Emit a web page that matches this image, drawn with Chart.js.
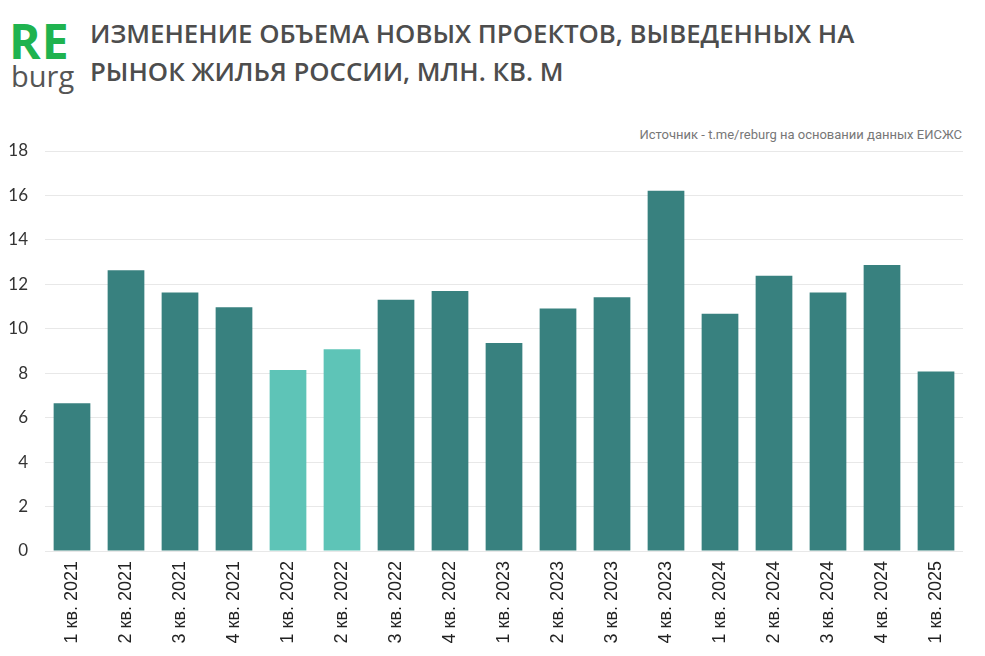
<!DOCTYPE html>
<html lang="ru">
<head>
  <meta charset="UTF-8">
  <title>Изменение объема новых проектов</title>
  <script src="https://cdn.jsdelivr.net/npm/chart.js"></script>
  <style>
    body {
      margin: 0;
      background: #ffffff;
      width: 985px;
      height: 656px;
      overflow: hidden;
      position: relative;
      font-family: 'Open Sans', sans-serif;
    }
    .logo-re {
      position: absolute;
      left: 9px;
      top: 14px;
      font-family: 'Open Sans', sans-serif;
      font-weight: 700;
      font-size: 48px;
      line-height: 54px;
      color: #1fb34f;
      letter-spacing: 1px;
    }
    .logo-burg {
      position: absolute;
      left: 11px;
      top: 58px;
      font-family: 'Open Sans', sans-serif;
      font-size: 29px;
      line-height: 36px;
      color: #555555;
    }
    .title {
      position: absolute;
      left: 90px;
      top: 14px;
      font-family: 'Open Sans', sans-serif;
      font-weight: 600;
      font-size: 25.8px;
      line-height: 38px;
      color: #4d4d4d;
    }
    .source {
      position: absolute;
      right: 23px;
      top: 127px;
      font-family: 'Roboto', sans-serif;
      font-size: 13px;
      color: #777777;
    }
    #wrap {
      position: absolute;
      left: 0;
      top: 0;
      width: 985px;
      height: 656px;
    }
  </style>
</head>
<body>
  <div class="logo-re">RE</div>
  <div class="logo-burg">burg</div>
  <div class="title">ИЗМЕНЕНИЕ ОБЪЕМА НОВЫХ ПРОЕКТОВ, ВЫВЕДЕННЫХ НА<br>РЫНОК ЖИЛЬЯ РОССИИ, МЛН. КВ. М</div>
  <div class="source">Источник - t.me/reburg на основании данных ЕИСЖС</div>
  <div id="wrap"><canvas id="chart"></canvas></div>

  <script>
    const quarters = [
      '1 кв. 2021', '2 кв. 2021', '3 кв. 2021', '4 кв. 2021',
      '1 кв. 2022', '2 кв. 2022', '3 кв. 2022', '4 кв. 2022',
      '1 кв. 2023', '2 кв. 2023', '3 кв. 2023', '4 кв. 2023',
      '1 кв. 2024', '2 кв. 2024', '3 кв. 2024', '4 кв. 2024',
      '1 кв. 2025'
    ];
    const volumes = [
      6.65, 12.63, 11.63, 10.97,
      8.15, 9.08, 11.31, 11.70,
      9.36, 10.91, 11.42, 16.21,
      10.68, 12.39, 11.63, 12.87,
      8.08
    ];
    // quarters shown in the lighter colour
    const highlighted = ['1 кв. 2022', '2 кв. 2022'];
    const yTicks = [0, 2, 4, 6, 8, 10, 12, 14, 16, 18];

    const dark = '#38817f';
    const light = '#5ec4b7';

    new Chart(document.getElementById('chart'), {
      type: 'bar',
      data: {
        labels: quarters,
        datasets: [{
          data: volumes,
          backgroundColor: quarters.map(q => highlighted.includes(q) ? light : dark),
          categoryPercentage: 1,
          barPercentage: 0.68
        }]
      },
      options: {
        responsive: true,
        maintainAspectRatio: false,
        animation: false,
        layout: { padding: { top: 151, right: 22, left: 0, bottom: 0 } },
        plugins: {
          legend: { display: false },
          tooltip: { enabled: false }
        },
        scales: {
          x: {
            grid: { display: false },
            border: { display: false },
            ticks: {
              minRotation: 90,
              maxRotation: 90,
              padding: 2,
              color: '#222222',
              font: { family: 'Liberation Sans', size: 18 }
            },
            afterFit: s => { s.height = 105; }
          },
          y: {
            min: 0,
            max: 18,
            afterBuildTicks: s => { s.ticks = yTicks.map(v => ({ value: v })); },
            grid: { color: '#e8e8e8', lineWidth: 1, drawTicks: false },
            border: { display: false },
            ticks: {
              padding: 17,
              color: '#333333',
              font: { family: 'Lato', size: 17 }
            },
            afterFit: s => { s.width = 45; }
          }
        }
      }
    });
  </script>
</body>
</html>
